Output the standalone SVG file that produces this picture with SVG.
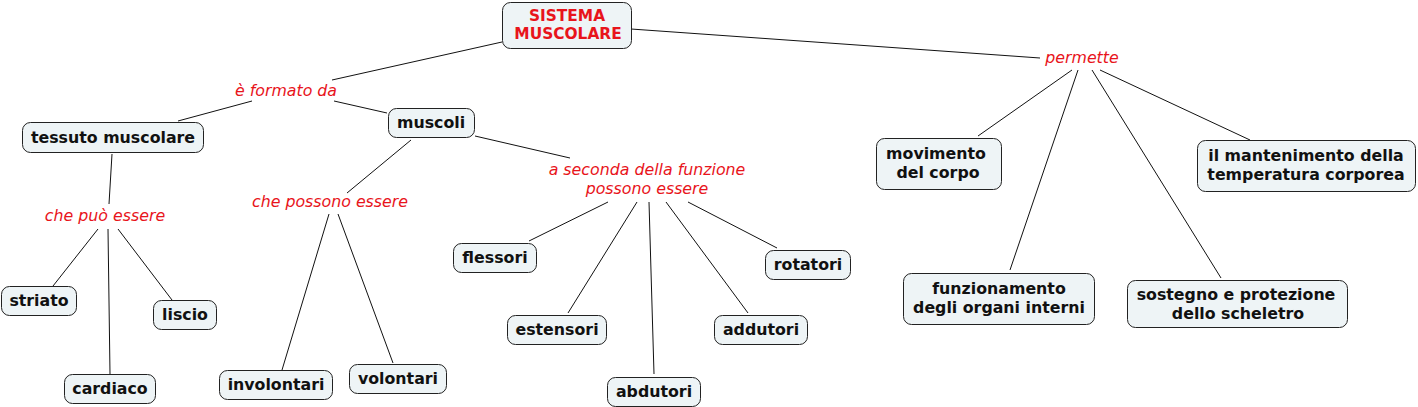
<svg xmlns="http://www.w3.org/2000/svg" width="1418" height="407" viewBox="0 0 1418 407">
<style>
.n rect{fill:#eef4f6;stroke:#222;stroke-width:1}
.n text{font-family:"DejaVu Sans",Verdana,sans-serif;font-weight:bold;font-size:15.8px;fill:#111;text-anchor:middle}
.n text.r{fill:#e8141b;font-size:15.4px}
.l text{font-family:"DejaVu Sans",Verdana,sans-serif;font-style:italic;font-size:15.8px;fill:#e8141b;text-anchor:middle}
#connectors line{stroke:#111;stroke-width:1}
</style>
<rect width="1418" height="407" fill="#fff"/>
<g id="connectors">
<line x1="502" y1="42" x2="332" y2="80"/>
<line x1="252" y1="101" x2="178" y2="121"/>
<line x1="334" y1="101" x2="387" y2="113"/>
<line x1="112" y1="154" x2="109" y2="204"/>
<line x1="411" y1="140" x2="347" y2="193"/>
<line x1="475" y1="136" x2="570" y2="158"/>
<line x1="98" y1="229" x2="53" y2="286"/>
<line x1="108" y1="229" x2="110" y2="374"/>
<line x1="118" y1="229" x2="172" y2="300"/>
<line x1="329" y1="214" x2="282" y2="370"/>
<line x1="338" y1="214" x2="393" y2="363"/>
<line x1="608" y1="202" x2="529" y2="241"/>
<line x1="637" y1="202" x2="568" y2="313"/>
<line x1="649" y1="202" x2="654" y2="374"/>
<line x1="666" y1="202" x2="748" y2="313"/>
<line x1="688" y1="202" x2="777" y2="248"/>
<line x1="631" y1="29" x2="1040" y2="58"/>
<line x1="1072" y1="70" x2="978" y2="136"/>
<line x1="1078" y1="70" x2="1010" y2="270"/>
<line x1="1092" y1="70" x2="1221" y2="278"/>
<line x1="1100" y1="70" x2="1250" y2="140"/>
</g>
<g class="l">
<g id="l-formato"><text x="286" y="96">è formato da</text></g>
<g id="l-puo"><text x="105" y="221">che può essere</text></g>
<g id="l-possono"><text x="330" y="207">che possono essere</text></g>
<g id="l-seconda"><text x="647" y="175">a seconda della funzione</text><text x="647" y="194">possono essere</text></g>
<g id="l-permette"><text x="1082" y="63">permette</text></g>
</g>
<g class="n">
<g id="n-sistema"><rect x="502.5" y="2.5" width="129" height="46" rx="8"/><text class="r" x="567" y="21">SISTEMA</text><text class="r" x="568" y="39">MUSCOLARE</text></g>
<g id="n-tessuto"><rect x="22.5" y="122.5" width="181" height="30" rx="8"/><text x="113" y="143">tessuto muscolare</text></g>
<g id="n-muscoli"><rect x="388.5" y="108.5" width="86" height="29" rx="8"/><text x="431" y="128">muscoli</text></g>
<g id="n-striato"><rect x="1.5" y="286.5" width="75" height="29" rx="8"/><text x="39" y="306">striato</text></g>
<g id="n-cardiaco"><rect x="64.5" y="374.5" width="91" height="29" rx="8"/><text x="110" y="394">cardiaco</text></g>
<g id="n-liscio"><rect x="153.5" y="300.5" width="63" height="29" rx="8"/><text x="185" y="320">liscio</text></g>
<g id="n-involontari"><rect x="219.5" y="370.5" width="113" height="29" rx="8"/><text x="276" y="390">involontari</text></g>
<g id="n-volontari"><rect x="349.5" y="364.5" width="97" height="29" rx="8"/><text x="398" y="384">volontari</text></g>
<g id="n-flessori"><rect x="453.5" y="243.5" width="83" height="29" rx="8"/><text x="495" y="263">flessori</text></g>
<g id="n-estensori"><rect x="507.5" y="315.5" width="99" height="29" rx="8"/><text x="557" y="335">estensori</text></g>
<g id="n-abdutori"><rect x="607.5" y="377.5" width="93" height="29" rx="8"/><text x="654" y="397">abdutori</text></g>
<g id="n-addutori"><rect x="714.5" y="315.5" width="93" height="29" rx="8"/><text x="761" y="335">addutori</text></g>
<g id="n-rotatori"><rect x="765.5" y="250.5" width="85" height="29" rx="8"/><text x="808" y="270">rotatori</text></g>
<g id="n-movimento"><rect x="876.5" y="138.5" width="125" height="51" rx="8"/><text x="936" y="159">movimento</text><text x="938" y="178">del corpo</text></g>
<g id="n-temperatura"><rect x="1197.5" y="140.5" width="218" height="51" rx="8"/><text x="1306" y="161">il mantenimento della</text><text x="1306" y="180">temperatura corporea</text></g>
<g id="n-organi"><rect x="903.5" y="273.5" width="191" height="51" rx="8"/><text x="999" y="294">funzionamento</text><text x="999" y="313">degli organi interni</text></g>
<g id="n-scheletro"><rect x="1127.5" y="280.5" width="220" height="47" rx="8"/><text x="1236" y="300">sostegno e protezione</text><text x="1238" y="319">dello scheletro</text></g>
</g>
</svg>
